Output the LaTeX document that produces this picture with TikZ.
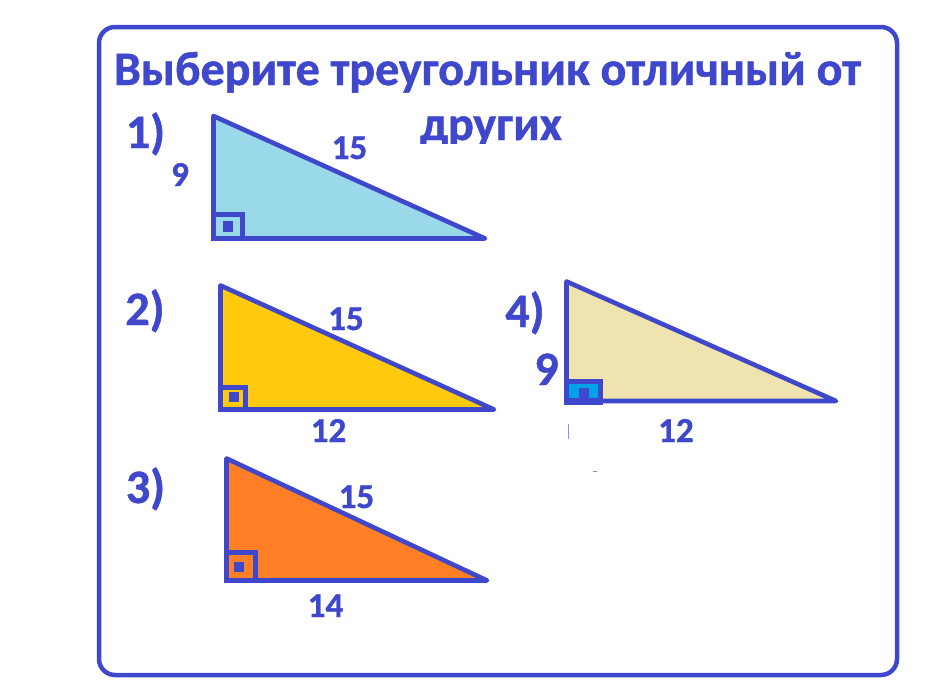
\documentclass[tikz,border=0pt]{standalone}
\usepackage{fontspec}
\setmainfont{Carlito}
\newfontfamily\heavy{Carlito Bold}[FakeBold=1]
\definecolor{indigo}{RGB}{63,72,204}
\definecolor{turq}{RGB}{153,217,234}
\definecolor{gold}{RGB}{255,201,14}
\definecolor{orng}{RGB}{255,127,39}
\definecolor{cream}{RGB}{239,228,176}
\definecolor{cyanb}{RGB}{0,162,232}
\begin{document}
\begin{tikzpicture}[x=1pt,y=-1pt,
  tri/.style={draw=indigo,line width=4.6pt,line join=round},
  rsq/.style={draw=indigo,line width=4.6pt},
  dotsq/.style={fill=indigo},
  lbl/.style={text=indigo,font=\heavy\fontsize{35}{40}\selectfont,inner sep=0pt,anchor=base},
  biglbl/.style={text=indigo,font=\heavy\fontsize{48}{54}\selectfont,inner sep=0pt,anchor=base},
  ttl/.style={text=indigo,font=\heavy\fontsize{48}{54}\selectfont,inner sep=0pt,anchor=base}]
\useasboundingbox (0,0) rectangle (943,696);
\fill[white] (0,0) rectangle (943,696);
% frame
\draw[indigo,line width=4.5pt,rounded corners=16pt] (99,27) rectangle (897,675);
% title
\node[ttl] (title1) at (487.5,85) {Выберите треугольник отличный от};
\begin{scope}
\clip (0,90) rectangle (943,143);
\node[ttl] (title2) at (491,140) {других};
\end{scope}
% triangle 1
\coordinate (a1) at (213.5,116);
\coordinate (b1) at (213.5,238.5);
\coordinate (c1) at (485,238.5);
\filldraw[tri,fill=turq] (a1) -- (b1) -- (c1) -- cycle;
\draw[rsq] (213.5,214.5) rectangle (242.5,238.5);
\fill[dotsq] (223,221) rectangle (233,232);
% triangle 2
\coordinate (a2) at (220.5,285.5);
\coordinate (b2) at (220.5,409.5);
\coordinate (c2) at (494,409.5);
\filldraw[tri,fill=gold] (a2) -- (b2) -- (c2) -- cycle;
\draw[rsq] (220.5,387.5) rectangle (245.5,409.5);
\fill[dotsq] (229,392) rectangle (239,402);
% triangle 3
\coordinate (a3) at (226.5,458.5);
\coordinate (b3) at (226.5,580.5);
\coordinate (c3) at (487,580.5);
\filldraw[tri,fill=orng] (a3) -- (b3) -- (c3) -- cycle;
\draw[rsq] (226.5,552.5) rectangle (255.5,580.5);
\fill[dotsq] (234,562) rectangle (244,572);
% triangle 4
\coordinate (a4) at (566.5,281.5);
\coordinate (b4) at (566.5,401);
\coordinate (c4) at (836,401);
\filldraw[tri,fill=cream] (a4) -- (b4) -- (c4) -- cycle;
\filldraw[rsq,fill=cyanb] (566.5,381.5) rectangle (600.5,401);
\fill[indigo] (564,398) rectangle (603,405);
\fill[indigo] (579,388) rectangle (589,400);
% labels
\node[biglbl] (n1) at (145.5,148) {1)};
\node[biglbl] (n2) at (145,325) {2)};
\node[biglbl] (n3) at (145.5,503) {3)};
\node[biglbl] (n4) at (525,327) {4)};
\node[lbl] (s19) at (180,186) {9};
\node[lbl] (s115) at (349.5,159) {15};
\node[lbl] (s215) at (346,330) {15};
\node[lbl] (s212) at (328.5,442) {12};
\node[lbl] (s315) at (356.5,508) {15};
\node[lbl] (s314) at (325.5,617) {14};
\node[biglbl] (s49) at (546.5,385) {9};
\node[lbl] (s412) at (676,442) {12};
% small marks
\draw[indigo!60,line width=1pt] (568,424) -- (568,439);
\draw[indigo!60,line width=1pt] (593,471) -- (597,471);
\end{tikzpicture}
\end{document}
